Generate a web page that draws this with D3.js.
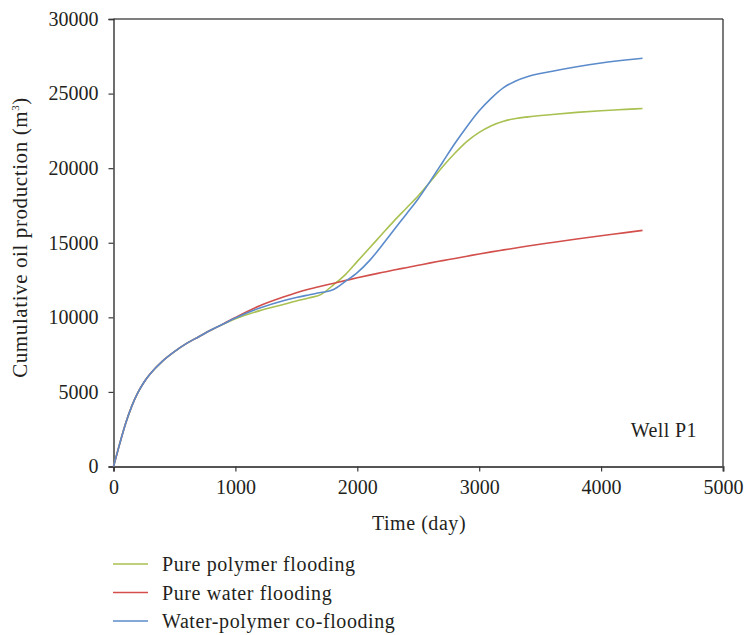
<!DOCTYPE html>
<html>
<head>
<meta charset="utf-8">
<script src="https://cdn.jsdelivr.net/npm/d3@7"></script>
<style>
  html, body { margin: 0; padding: 0; background: #fff; }
  svg text { font-family: "Liberation Serif", "DejaVu Serif", serif; fill: #231f20; }
</style>
</head>
<body>
<svg id="chart" width="746" height="635"></svg>
<script>
// Time in days
const days = [0, 50, 100, 150, 200, 250, 300, 400, 500, 600, 700, 800, 900, 1000,
  1200, 1400, 1500, 1600, 1700, 1800, 1900, 2000, 2100, 2200, 2300, 2400, 2500,
  2600, 2700, 2800, 2900, 3000, 3100, 3200, 3300, 3400, 3600, 3800, 4000, 4200, 4340];

// Cumulative oil production (m3)
const polymer = [0, 1500, 2900, 4050, 4950, 5650, 6200, 7050, 7700, 8250, 8700, 9150, 9540, 9900,
  10450, 10880, 11100, 11300, 11520, 12150, 12850, 13750, 14650, 15550, 16450, 17300, 18150,
  19100, 20100, 21000, 21800, 22400, 22850, 23150, 23330, 23440, 23600, 23740, 23850, 23940, 24000];

const water = [0, 1500, 2900, 4050, 4950, 5650, 6200, 7050, 7700, 8250, 8700, 9150, 9560, 9990,
  10780, 11380, 11650, 11880, 12080, 12270, 12460, 12650, 12830, 13000, 13170, 13330, 13490,
  13650, 13800, 13950, 14100, 14250, 14390, 14520, 14650, 14780, 15020, 15250, 15470, 15680, 15830];

const coflood = [0, 1500, 2900, 4050, 4950, 5650, 6200, 7050, 7700, 8250, 8700, 9150, 9550, 9950,
  10620, 11130, 11330, 11500, 11660, 11850, 12400, 13000, 13800, 14800, 15850, 16900, 17950,
  19150, 20400, 21650, 22800, 23850, 24700, 25400, 25850, 26150, 26500, 26800, 27050, 27250, 27370];

const seriesNames = ["Pure polymer flooding", "Pure water flooding", "Water-polymer co-flooding"];
const seriesColors = ["#a8c150", "#d24f4c", "#5b8bcb"];
const xTicks = [0, 1000, 2000, 3000, 4000, 5000];
const yTicks = [0, 5000, 10000, 15000, 20000, 25000, 30000];

const svg = d3.select("#chart");
const plotLeft = 113.5, plotRight = 723, plotTop = 19, plotBottom = 466.5;

const x = d3.scaleLinear().domain([0, 5000]).range([plotLeft, plotRight]);
const y = d3.scaleLinear().domain([0, 30000]).range([plotBottom, plotTop]);

const axisColor = "#3a3a3a";

// Frame: top and right edges
svg.append("line").attr("x1", plotLeft).attr("x2", plotRight).attr("y1", plotTop).attr("y2", plotTop)
  .attr("stroke", "#555").attr("stroke-width", 1.4);
svg.append("line").attr("x1", plotRight).attr("x2", plotRight).attr("y1", plotTop).attr("y2", plotBottom)
  .attr("stroke", "#222").attr("stroke-width", 1.2);

// Axes
const xAxis = svg.append("g").attr("transform", `translate(0,${plotBottom})`)
  .call(d3.axisBottom(x).tickValues(xTicks).tickFormat(d3.format("d")).tickSizeOuter(0).tickSize(5).tickPadding(8));
const yAxis = svg.append("g").attr("transform", `translate(${plotLeft},0)`)
  .call(d3.axisLeft(y).tickValues(yTicks).tickFormat(d3.format("d")).tickSizeOuter(0).tickSize(5).tickPadding(10));

xAxis.select(".domain").attr("stroke", "#555").attr("stroke-width", 2);
yAxis.select(".domain").attr("stroke", "#222").attr("stroke-width", 1.3);
[xAxis, yAxis].forEach(g => {
  g.selectAll(".tick line").attr("stroke", axisColor).attr("stroke-width", 1.2);
  g.selectAll(".tick text").attr("font-size", 20)
    .attr("font-family", "Liberation Serif, serif").attr("fill", "#231f20");
});

// Curves
const allSeries = [polymer, water, coflood];
const line = d3.line().x(d => x(d[0])).y(d => y(d[1])).curve(d3.curveMonotoneX);
allSeries.forEach((vals, i) => {
  svg.append("path")
    .datum(days.map((t, k) => [t, vals[k]]))
    .attr("d", line)
    .attr("fill", "none")
    .attr("stroke", seriesColors[i])
    .attr("stroke-width", 1.6);
});

// Axis titles
svg.append("text").attr("x", 419).attr("y", 530)
  .attr("text-anchor", "middle").attr("font-size", 20).attr("letter-spacing", 0.55)
  .text("Time (day)");

const yt = svg.append("text")
  .attr("transform", `translate(27,237.5) rotate(-90)`)
  .attr("text-anchor", "middle").attr("font-size", 21).attr("letter-spacing", 0.6);
yt.append("tspan").text("Cumulative oil production (m");
yt.append("tspan").attr("font-size", 11).attr("dy", -8).text("3");
yt.append("tspan").attr("dy", 8).text(")");

// Annotation
svg.append("text").attr("x", 697).attr("y", 437).attr("text-anchor", "end")
  .attr("font-size", 20).attr("letter-spacing", 0.4).text("Well P1");

// Legend
const legendY = [564, 592.5, 621];
seriesNames.forEach((name, i) => {
  svg.append("line").attr("x1", 113).attr("x2", 148)
    .attr("y1", legendY[i]).attr("y2", legendY[i])
    .attr("stroke", seriesColors[i]).attr("stroke-width", 1.6);
  svg.append("text").attr("x", 162).attr("y", legendY[i] + 7)
    .attr("font-size", 20).attr("letter-spacing", 0.6).text(name);
});
</script>
</body>
</html>
